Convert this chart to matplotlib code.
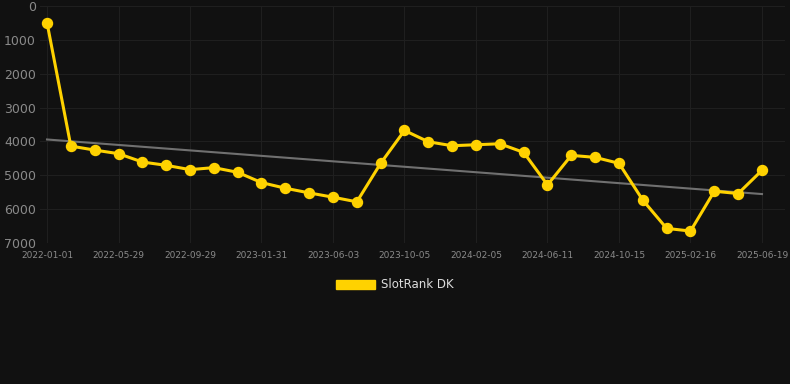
import numpy as np
import matplotlib
matplotlib.use("Agg")
import matplotlib.pyplot as plt
from matplotlib.patches import Patch

# Données
tick_labels = ["2022-01-01", "2022-05-29", "2022-09-29", "2023-01-31", "2023-06-03",
               "2023-10-05", "2024-02-05", "2024-06-11", "2024-10-15", "2025-02-16",
               "2025-06-19"]
rang = [490, 4138, 4255, 4362, 4608, 4706, 4833, 4774, 4912, 5216,
        5382, 5520, 5647, 5784, 4647, 3676, 4010, 4127, 4098, 4069,
        4324, 5284, 4412, 4471, 4647, 5735, 6569, 6647, 5471, 5539,
        4853]
y_ticks = [0, 1000, 2000, 3000, 4000, 5000, 6000, 7000]

fond = "#111111"
jaune = "#ffd200"

x = np.arange(len(rang))
# droite de tendance (régression linéaire)
a, b = np.polyfit(x, rang, 1)

fig = plt.figure(figsize=(7.9, 3.84), dpi=100, facecolor=fond)
ax = fig.add_axes([40 / 790, (384 - 243) / 384, 745 / 790, 237 / 384], facecolor=fond)

ax.plot(x, a * x + b, color="#707070", linewidth=1.5, zorder=2)
ax.plot(x, rang, color=jaune, linewidth=2.2, marker="o", markersize=7.2, zorder=3)

ax.set_ylim(7000, 0)
ax.set_xlim(-7 / 23.83, 30 + 23 / 23.83)
ax.set_yticks(y_ticks)
ax.set_yticklabels([str(v) for v in y_ticks])
ax.set_xticks(x[::3])
ax.set_xticklabels(tick_labels)

ax.grid(True, color="#1f1f1f", linewidth=0.8)
ax.set_axisbelow(True)
for s in ax.spines.values():
    s.set_visible(False)
ax.tick_params(axis="y", length=0, pad=3, labelsize=9, labelcolor="#8a8a8a")
ax.tick_params(axis="x", length=0, pad=6, labelsize=6.5, labelcolor="#8a8a8a")

leg = fig.legend(handles=[Patch(facecolor=jaune, edgecolor=jaune, label="SlotRank DK")],
                 loc="center", bbox_to_anchor=(395 / 790, 1 - 285 / 384), frameon=False,
                 fontsize=8.5, handlelength=3.3, handleheight=0.9, handletextpad=0.5)
for t in leg.get_texts():
    t.set_color("#dddddd")

fig.savefig("out.png", dpi=100, facecolor=fond)
